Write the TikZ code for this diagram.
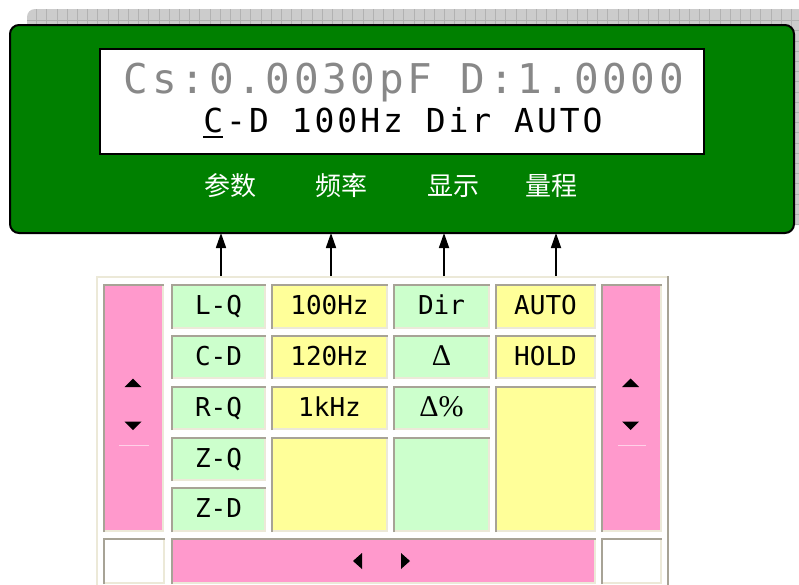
\documentclass[tikz,border=0pt]{standalone}
\usepackage{fontspec}
\usetikzlibrary{arrows.meta}
\newfontfamily\lcdfont[LetterSpace=9]{DejaVu Sans Mono}
\newfontfamily\monofont{DejaVu Sans Mono}
\newfontfamily\cjk{Noto Sans CJK SC}
\newfontfamily\serifgr{Liberation Serif}
\definecolor{panelgreen}{RGB}{0,128,0}
\definecolor{cellgreen}{RGB}{204,255,204}
\definecolor{cellyellow}{RGB}{255,255,153}
\definecolor{cellpink}{RGB}{255,153,204}
\definecolor{edgegrey}{RGB}{167,163,150}
\definecolor{edgelight}{RGB}{236,233,216}
\definecolor{lcdgrey}{RGB}{136,136,136}
\definecolor{shadowgrey}{RGB}{204,204,204}
\definecolor{shadowline}{RGB}{178,178,178}
\tikzset{
  cellbase/.style={inner sep=0pt, outer sep=0pt, text height=18pt, text depth=2pt,
     font=\monofont\fontsize{26}{26}\selectfont},
  gcell/.style={cellbase, fill=cellgreen},
  ycell/.style={cellbase, fill=cellyellow},
  pcell/.style={cellbase, fill=cellpink},
  wcell/.style={cellbase, fill=white},
  cjklabel/.style={text=white, font=\cjk\fontsize{26}{26}\selectfont, inner sep=0pt},
  keyarrow/.style={line width=1.7pt, -{Triangle[width=10pt,length=15pt]}},
  tri/.style={fill=black},
}
% #1 name, #2 style, #3 x1, #4 y1, #5 x2, #6 y2, #7 text
\newcommand{\mycell}[7]{%
  \node[#2, minimum width={#5-#3}, minimum height={#6-#4}] (#1) at ({(#3+#5)/2},{(#4+#6)/2}) {#7};
  \draw[edgelight, line width=2pt] ([xshift=1pt,yshift=1pt]#1.south west) -- ([xshift=-1pt,yshift=1pt]#1.south east) -- ([xshift=-1pt]#1.north east);
  \draw[edgegrey, line width=2pt] ([xshift=1pt]#1.south west) -- ([xshift=1pt,yshift=-1pt]#1.north west) -- ([yshift=-1pt]#1.north east);
}
\begin{document}
\begin{tikzpicture}[x=1pt,y=-1pt]
\useasboundingbox (0,0) rectangle (799,584);
\fill[white] (0,0) rectangle (799,584);
% shadow behind the panel
\fill[shadowgrey, rounded corners=8pt] (27,225) -- (27,9) -- (810,9) -- (810,225) -- cycle;
\begin{scope}
  \clip[rounded corners=8pt] (27,225) -- (27,9) -- (810,9) -- (810,225) -- cycle;
  \foreach \i in {0,...,76} {\draw[shadowline, line width=0.8pt] ({36.5+10.2*\i},9) -- ({36.5+10.2*\i},225);}
  \foreach \j in {0,...,20} {\draw[shadowline, line width=0.8pt] (27,{20.5+10.2*\j}) -- (810,{20.5+10.2*\j});}
\end{scope}
% green panel
\node[draw=black, line width=2pt, fill=panelgreen, rounded corners=9pt, minimum width=784pt, minimum height=208pt, inner sep=0pt, outer sep=0pt] (panel) at (402,129) {};
\node[draw=black, line width=1.5pt, fill=white, minimum width=604pt, minimum height=105pt, inner sep=0pt, outer sep=0pt] (lcd) at (402,101.5) {};
\node[anchor=base, inner sep=0pt, text=lcdgrey, font=\lcdfont\fontsize{41}{41}\selectfont] (line1) at (404,93) {Cs:0.0030pF D:1.0000};
\node[anchor=base, inner sep=0pt, text=black, font=\lcdfont\fontsize{33}{33}\selectfont] (line2) at (403,132) {\rlap{\raisebox{-6pt}{\rule{0.6em}{2pt}}}C-D 100Hz Dir AUTO};
\node[cjklabel] (k1) at (230,186) {参数};
\node[cjklabel] (k2) at (341,186) {频率};
\node[cjklabel] (k3) at (453,186) {显示};
\node[cjklabel] (k4) at (551,186) {量程};
% lower panel frame
\draw[edgelight, line width=2pt] (97,590) -- (97,277) -- (668,277);
\draw[edgegrey, line width=2pt] (668,276) -- (668,590);
% arrows
\coordinate (s1) at (221,276);
\coordinate (s2) at (331,276);
\coordinate (s3) at (444,276);
\coordinate (s4) at (556,276);
\draw[keyarrow] (s1) -- (s1 |- panel.south);
\draw[keyarrow] (s2) -- (s2 |- panel.south);
\draw[keyarrow] (s3) -- (s3 |- panel.south);
\draw[keyarrow] (s4) -- (s4 |- panel.south);
% left scroll column
\mycell{lp}{pcell}{103}{284}{164}{532}{}
\draw[cellpink!45!white, line width=0.8pt] (119,445) -- (149,445);
\fill[tri] (124.5,387) -- (141.5,387) -- (133,378.5) -- cycle;
\fill[tri] (124.5,421.5) -- (141.5,421.5) -- (133,430) -- cycle;
% column 1
\mycell{c1}{gcell}{171}{284}{266}{329}{L-Q}
\mycell{c2}{gcell}{171}{335}{266}{379}{C-D}
\mycell{c3}{gcell}{171}{386}{266}{430}{R-Q}
\mycell{c4}{gcell}{171}{437}{266}{481}{Z-Q}
\mycell{c5}{gcell}{171}{487}{266}{532}{Z-D}
% column 2
\mycell{f1}{ycell}{271}{284}{388}{329}{100Hz}
\mycell{f2}{ycell}{271}{335}{388}{379}{120Hz}
\mycell{f3}{ycell}{271}{386}{388}{430}{1kHz}
\mycell{f4}{ycell}{271}{437}{388}{532}{}
% column 3
\mycell{d1}{gcell}{393}{284}{490}{329}{Dir}
\mycell{d2}{gcell}{393}{335}{490}{379}{\serifgr\fontsize{30}{30}\selectfont Δ}
\mycell{d3}{gcell}{393}{386}{490}{430}{\serifgr\fontsize{30}{30}\selectfont Δ\%}
\mycell{d4}{gcell}{393}{437}{490}{532}{}
% column 4
\mycell{r1}{ycell}{495}{284}{596}{329}{AUTO}
\mycell{r2}{ycell}{495}{335}{596}{379}{HOLD}
\mycell{r3}{ycell}{495}{386}{596}{532}{}
% right scroll column
\mycell{rp}{pcell}{601}{284}{662}{532}{}
\draw[cellpink!45!white, line width=0.8pt] (618,445) -- (646,445);
\fill[tri] (622,387) -- (639,387) -- (630.5,378.5) -- cycle;
\fill[tri] (622,421.5) -- (639,421.5) -- (630.5,430) -- cycle;
% bottom row
\mycell{bl}{wcell}{103}{538}{165}{584}{}
\mycell{bp}{pcell}{171}{538}{596}{584}{}
\mycell{br}{wcell}{601}{538}{662}{584}{}
\fill[tri] (353,561) -- (362,553) -- (362,569) -- cycle;
\fill[tri] (410,561) -- (401,553) -- (401,569) -- cycle;
\end{tikzpicture}
\end{document}
